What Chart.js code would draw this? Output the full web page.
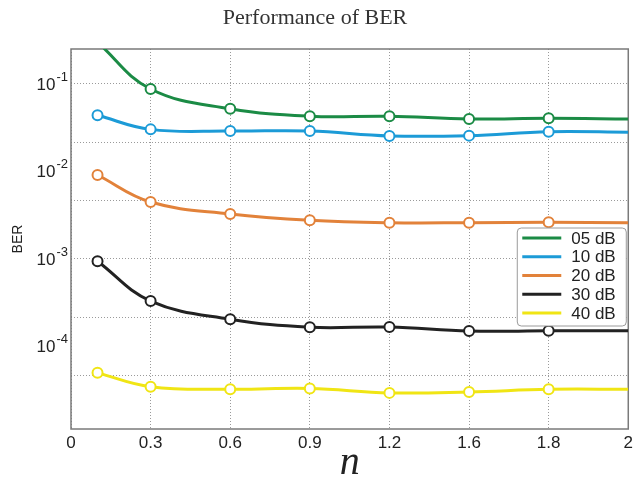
<!DOCTYPE html>
<html><head><meta charset="utf-8">
<script src="https://cdn.jsdelivr.net/npm/chart.js@4/dist/chart.umd.min.js"></script>
<style>html,body{margin:0;padding:0;background:#fff}#wrap{width:637px;height:480px}</style>
</head><body><div id="wrap"><canvas id="c" width="637" height="480"></canvas></div>
<script>
const chartTitle = 'Performance of BER';
const xTitle = 'n';
const yTitle = 'BER';
const xTickLabels = ['0','0.3','0.6','0.9','1.2','1.6','1.8','2'];
const nValues = [0.1,0.3,0.6,0.9,1.2,1.6,1.8,2.0];
const seriesLabels = ['05 dB','10 dB','20 dB','30 dB','40 dB'];
const ber05 = [0.30,0.0877,0.0522,0.0428,0.0428,0.0398,0.0406,0.0398];
const ber10 = [0.0439,0.0303,0.0290,0.0290,0.0255,0.0257,0.0285,0.0281];
const ber20 = [0.00912,0.00448,0.00327,0.00277,0.00260,0.00260,0.00263,0.00260];
const ber30 = [0.000942,0.000331,0.000205,0.000166,0.000167,0.000150,0.000151,0.000151];
const ber40 = [5.0e-5,3.47e-5,3.24e-5,3.31e-5,2.95e-5,3.02e-5,3.24e-5,3.24e-5];
const yLabelExponents = [-1,-2,-3,-4];
const yGridExponents = [-1,-5/3,-7/3,-3,-11/3,-13/3];
const yRangeExponents = [-4.943,-0.6];

const seriesColors = ['#1b8b45','#1c9bd7','#e2823a','#222222','#f0e514'];
const allSeries = [ber05, ber10, ber20, ber30, ber40];

// position of an n value on the (unevenly labelled) x axis
const tickNums = xTickLabels.map(Number);
function axisPos(n){
  for (let i=0;i<tickNums.length-1;i++){
    if (n>=tickNums[i] && n<=tickNums[i+1]) return i + (n-tickNums[i])/(tickNums[i+1]-tickNums[i]);
  }
  return tickNums.length-1;
}

const datasets = allSeries.map((vals,k)=>({
  label: seriesLabels[k],
  data: vals.map((v,i)=>({x: axisPos(nValues[i]), y: v})),
  borderColor: seriesColors[k],
  backgroundColor: seriesColors[k],
  borderWidth: 3,
  tension: 0.4,
  pointRadius: ctx => ctx.dataIndex === vals.length-1 ? 0 : 5,
  pointBorderWidth: 2,
  pointBackgroundColor: '#ffffff',
  pointBorderColor: seriesColors[k],
  clip: 0
}));

const framePlugin = {
  id: 'frame',
  beforeDatasetsDraw(chart){
    const {ctx, chartArea:a} = chart;
    ctx.save();
    ctx.strokeStyle = '#7a7a7a';
    ctx.lineWidth = 1.5;
    ctx.strokeRect(a.left, a.top, a.right-a.left, a.bottom-a.top);
    ctx.restore();
  }
};

const yLabelPlugin = {
  id: 'ylabels',
  afterDraw(chart){
    const {ctx, chartArea:a} = chart;
    const ys = chart.scales.y;
    ctx.save();
    ctx.fillStyle = '#222';
    yLabelExponents.forEach(e=>{
      const py = ys.getPixelForValue(Math.pow(10,e));
      const expStr = '-' + Math.abs(e);
      ctx.font = '13px "Liberation Sans", Arial, sans-serif';
      const ew = ctx.measureText(expStr).width;
      const xr = a.left - 3;
      ctx.textAlign = 'right';
      ctx.textBaseline = 'middle';
      ctx.fillText(expStr, xr, py - 7);
      ctx.font = '17px "Liberation Sans", Arial, sans-serif';
      ctx.fillText('10', xr - ew - 1, py + 1);
    });
    ctx.restore();
  }
};

const legendPlugin = {
  id: 'boxlegend',
  afterDatasetsDraw(chart){
    const {ctx, chartArea:a} = chart;
    const w = 109, h = 98;
    const x0 = a.right - 2 - w, y0 = a.top + 179;
    ctx.save();
    ctx.beginPath();
    ctx.roundRect(x0, y0, w, h, 4);
    ctx.fillStyle = '#ffffff';
    ctx.fill();
    ctx.strokeStyle = '#9a9a9a';
    ctx.lineWidth = 1;
    ctx.stroke();
    ctx.font = '17px "Liberation Sans", Arial, sans-serif';
    ctx.textAlign = 'left';
    ctx.textBaseline = 'middle';
    chart.data.datasets.forEach((ds,i)=>{
      const yy = y0 + 10 + i*18.75;
      ctx.strokeStyle = ds.borderColor;
      ctx.lineWidth = 3;
      ctx.beginPath();
      ctx.moveTo(x0+5, yy);
      ctx.lineTo(x0+44, yy);
      ctx.stroke();
      ctx.fillStyle = '#222';
      ctx.fillText(ds.label, x0+54, yy+1);
    });
    ctx.restore();
  }
};

new Chart(document.getElementById('c'), {
  type: 'line',
  data: { datasets },
  plugins: [framePlugin, yLabelPlugin, legendPlugin],
  options: {
    responsive: false,
    animation: false,
    devicePixelRatio: 1,
    layout: { padding: { left: 0, right: 7, top: 0, bottom: 0 } },
    plugins: {
      legend: { display: false },
      tooltip: { enabled: false },
      title: {
        display: true,
        text: chartTitle,
        color: '#333',
        font: { family: '"Liberation Serif", "DejaVu Serif", serif', size: 22, weight: 'normal', lineHeight: 1.2 },
        padding: { top: 5.5, bottom: 17.1 }
      }
    },
    scales: {
      x: {
        type: 'linear',
        min: 0,
        max: xTickLabels.length - 1,
        afterBuildTicks: s => { s.ticks = xTickLabels.map((_,i)=>({value:i})); },
        afterFit: s => { s.height = 51; },
        ticks: {
          autoSkip: false,
          maxRotation: 0,
          padding: 4,
          color: '#222',
          font: { family: '"Liberation Sans", Arial, sans-serif', size: 17 },
          callback: v => xTickLabels[v]
        },
        grid: { color: '#9a9a9a', lineWidth: 1, drawTicks: false },
        border: { display: false, dash: [1,2] },
        title: {
          display: true,
          text: xTitle,
          color: '#222',
          font: { family: '"Liberation Serif", "DejaVu Serif", serif', size: 40, style: 'italic', lineHeight: 0.85 },
          padding: { top: 0, bottom: 0 }
        }
      },
      y: {
        type: 'logarithmic',
        min: Math.pow(10, yRangeExponents[0]),
        max: Math.pow(10, yRangeExponents[1]),
        afterBuildTicks: s => { s.ticks = yGridExponents.map(e=>({value: Math.pow(10,e)})); },
        afterFit: s => { s.width = 71; },
        ticks: { display: false, autoSkip: false },
        grid: { color: '#9a9a9a', lineWidth: 1, drawTicks: false },
        border: { display: false, dash: [1,2] },
        title: {
          display: true,
          text: yTitle,
          color: '#222',
          font: { family: '"Liberation Sans", Arial, sans-serif', size: 14 },
          padding: { top: 10, bottom: 0 }
        }
      }
    }
  }
});
</script>
</body></html>
